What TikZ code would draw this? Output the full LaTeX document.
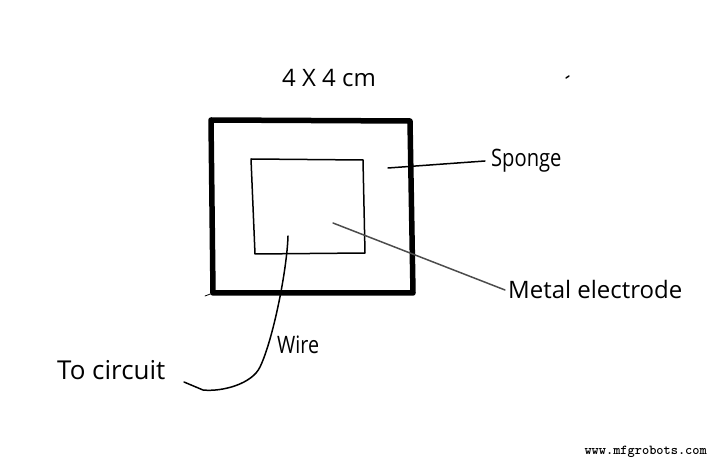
\documentclass[tikz,border=0pt]{standalone}
\usepackage{fontspec}
\setmainfont{Open Sans}
\usepackage{tikz}
\usetikzlibrary{positioning}

\tikzset{
    hand/.style = {inner sep=0pt, font=\fontsize{24}{24}\selectfont},
}

\begin{document}
\begin{tikzpicture}[x=1pt,y=-1pt,
    line cap=round, line join=round,
    sponge/.style = {line width=5.5pt},
 electrode/.style = {line width=1.5pt},
      lead/.style = {line width=1.5pt}]
\useasboundingbox (0,0) rectangle (718,462);
% sponge
\coordinate (sa) at (211,120);
\coordinate (sb) at (410,121);
\coordinate (sc) at (413,293);
\coordinate (sd) at (213,293);
\coordinate (se) at (205,296);
\draw[sponge] (sa) -- (sb) -- (sc) -- (sd) -- cycle;
\draw[line width=0.8pt] (se) -- (sd);
% electrode
\coordinate (ea) at (251,159);
\coordinate (eb) at (363,160);
\coordinate (ec) at (365,253);
\coordinate (ed) at (255,254);
\draw[electrode] (ea) -- (eb) -- (ec) -- (ed) -- cycle;
% labels
\node[hand]                    (size)    at (329,78)  {4 X 4 cm};
\node[hand,anchor=west,xscale=.84]
                               (sp)      at (491,161) {Sponge};
\node[hand,anchor=west]        (me)      at (508,290) {Metal electrode};
\node[hand,anchor=west,font=\fontsize{26}{26}\selectfont]
                               (tc)      at (57,370)  {To circuit};
\node[hand,anchor=west,xscale=.82]
                               (wi)      at (277,345) {Wire};
\node[inner sep=0pt,anchor=east,font=\ttfamily\bfseries\fontsize{13.7}{14}\selectfont]
                               (site)    at (707,452) {www.mfgrobots.com};
% pointers
\coordinate (pa) at (388,168);
\coordinate (pb) at (333,223);
\coordinate (pc) at (288,236);
\coordinate (pd) at (184,382);
\coordinate (pe) at (566,78);
\coordinate (pf) at (569,76);
\draw[lead] (pa) -- ([xshift=-6pt]sp.west);
\draw[lead,black!70] (pb) -- ([xshift=-3pt]me.west);
\draw[lead] (pc) .. controls (287,270) and (273,340) .. (260,367)
                 .. controls (252,384) and (222,392) .. (203,390) -- (pd);
\draw[lead] (pe) -- (pf);
\end{tikzpicture}
\end{document}
